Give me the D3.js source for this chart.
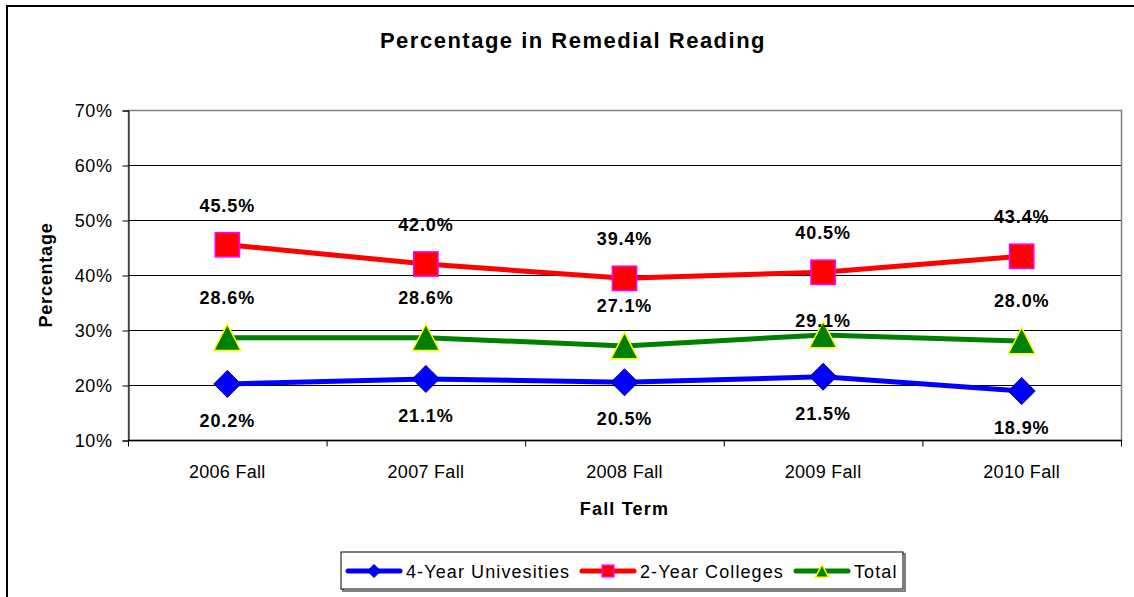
<!DOCTYPE html>
<html>
<head>
<meta charset="utf-8">
<script src="https://cdn.jsdelivr.net/npm/d3@7"></script>
<style>
  body { margin: 0; background: #fff; }
  svg { display: block; font-family: "Liberation Sans", Arial, sans-serif; }
</style>
</head>
<body>
<svg></svg>
<script>
// chart data
const terms = ["2006 Fall", "2007 Fall", "2008 Fall", "2009 Fall", "2010 Fall"];
const univ4 = [20.2, 21.1, 20.5, 21.5, 18.9];
const coll2 = [45.5, 42.0, 39.4, 40.5, 43.4];
const total = [28.6, 28.6, 27.1, 29.1, 28.0];
const yTicks = [10, 20, 30, 40, 50, 60, 70];

const w = 1134, h = 597;
const svg = d3.select("svg").attr("width", w).attr("height", h);

// outer chart frame
svg.append("rect")
    .attr("x", 7).attr("y", 6).attr("width", w + 20).attr("height", h + 20)
    .attr("fill", "white").attr("stroke", "black").attr("stroke-width", 2);

const pLeft = 128, pRight = 1121, pTop = 110, pBottom = 440;

var x = d3.scaleBand().domain(terms).range([pLeft, pRight]);
var y = d3.scaleLinear().domain([10, 70]).range([pBottom, pTop]);

// gridlines
svg.append("g")
    .selectAll("line")
    .data(yTicks)
    .enter()
    .append("line")
    .attr("x1", pLeft).attr("x2", pRight)
    .attr("y1", d => y(d) + 0.5).attr("y2", d => y(d) + 0.5)
    .attr("stroke", "#000").attr("stroke-width", 1);

// plot border (gray)
svg.append("rect")
    .attr("x", pLeft + 0.5).attr("y", pTop + 0.5)
    .attr("width", pRight - pLeft).attr("height", pBottom - pTop)
    .attr("fill", "none").attr("stroke", "#808080").attr("stroke-width", 1.5);

// y axis
var yAxis = d3.axisLeft(y).tickValues(yTicks).tickSize(6).tickPadding(10)
    .tickFormat(d => d + "%");
var gy = svg.append("g").attr("transform", `translate(${pLeft + 0.5},0.5)`).call(yAxis);
gy.select(".domain").attr("stroke", "#000");
gy.selectAll(".tick line").attr("stroke", "#000");
gy.selectAll("text").attr("font-size", 18).attr("fill", "#000")
    .attr("letter-spacing", 0.6)
    .attr("font-family", "Liberation Sans, Arial, sans-serif");

// x axis: ticks at category boundaries
var gx = svg.append("g").attr("transform", `translate(0,${pBottom + 0.5})`);
gx.append("line").attr("x1", pLeft).attr("x2", pRight + 1).attr("stroke", "#000").attr("stroke-width", 1.5);
gx.selectAll("line.tk")
    .data(terms.concat(["end"]))
    .enter()
    .append("line")
    .attr("class", "tk")
    .attr("x1", (d, i) => pLeft + i * x.bandwidth() + 0.5)
    .attr("x2", (d, i) => pLeft + i * x.bandwidth() + 0.5)
    .attr("y1", 0).attr("y2", 6)
    .attr("stroke", "#000");
gx.selectAll("text")
    .data(terms)
    .enter()
    .append("text")
    .attr("x", d => x(d) + x.bandwidth() / 2)
    .attr("y", 37)
    .attr("text-anchor", "middle")
    .attr("font-size", 18)
    .attr("letter-spacing", 0.3)
    .text(d => d);

// titles
svg.append("text").attr("x", 573).attr("y", 48).attr("text-anchor", "middle")
    .attr("font-size", 22).attr("font-weight", "bold").attr("letter-spacing", 1.5)
    .text("Percentage in Remedial Reading");
svg.append("text").attr("x", (pLeft + pRight) / 2).attr("y", 515).attr("text-anchor", "middle")
    .attr("font-size", 18).attr("font-weight", "bold").attr("letter-spacing", 1.2).text("Fall Term");
svg.append("text").attr("transform", `translate(52,${(pTop + pBottom) / 2}) rotate(-90)`)
    .attr("text-anchor", "middle")
    .attr("font-size", 18).attr("font-weight", "bold").attr("letter-spacing", 0.8).text("Percentage");

const cx = d => x(d) + x.bandwidth() / 2;

const series = [
    { name: "4-Year Univesities", values: univ4, color: "#0000ff", symbol: "diamond", fill: "#0000ff", stroke: "#000080", labelDy: 43 },
    { name: "2-Year Colleges", values: coll2, color: "#ff0000", symbol: "square", fill: "#ff0000", stroke: "#ff00ff", labelDy: -33 },
    { name: "Total", values: total, color: "#008000", symbol: "triangle", fill: "#008000", stroke: "#ffff00", labelDy: -34 }
];

function marker(g, s, px, py, size) {
    if (s.symbol === "diamond") {
        const r = size / 2;
        g.append("path").attr("d", `M${px},${py - r}L${px + r},${py}L${px},${py + r}L${px - r},${py}Z`)
            .attr("fill", s.fill).attr("stroke", s.stroke).attr("stroke-width", 1);
    } else if (s.symbol === "square") {
        const r = size * 0.45;
        g.append("rect").attr("x", px - r).attr("y", py - r).attr("width", 2 * r).attr("height", 2 * r)
            .attr("fill", s.fill).attr("stroke", s.stroke).attr("stroke-width", 1.5);
    } else {
        const r = size / 2;
        g.append("path").attr("d", `M${px},${py - r}L${px + r},${py + r * 0.95}L${px - r},${py + r * 0.95}Z`)
            .attr("fill", s.fill).attr("stroke", s.stroke).attr("stroke-width", 1.5);
    }
}

var line = d3.line().x((d, i) => cx(terms[i])).y(d => y(d));

series.forEach(s => {
    svg.append("path").datum(s.values).attr("d", line)
        .attr("fill", "none").attr("stroke", s.color).attr("stroke-width", 5)
        .attr("stroke-linejoin", "round");
});
series.forEach(s => {
    const g = svg.append("g");
    s.values.forEach((v, i) => marker(g, s, cx(terms[i]), y(v), 27));
});

// data labels (2009 Total label was nudged down in the original)
series.forEach(s => {
    svg.append("g")
        .selectAll("text")
        .data(s.values)
        .enter()
        .append("text")
        .attr("x", (d, i) => cx(terms[i]))
        .attr("y", (d, i) => y(d) + s.labelDy + (s.name === "Total" && i === 3 ? 26 : 0))
        .attr("text-anchor", "middle")
        .attr("font-size", 18).attr("font-weight", "bold").attr("letter-spacing", 0.9)
        .text(d => d.toFixed(1) + "%");
});

// legend
const lg = svg.append("g");
lg.append("rect").attr("x", 343).attr("y", 554).attr("width", 562).attr("height", 37)
    .attr("fill", "none").attr("stroke", "#808080").attr("stroke-width", 2);
lg.append("rect").attr("x", 341).attr("y", 552).attr("width", 562).attr("height", 37)
    .attr("fill", "white").attr("stroke", "#000").attr("stroke-width", 1);
const legX = [348, 582, 796];
series.forEach((s, i) => {
    const lx = legX[i], ly = 571;
    lg.append("line").attr("x1", lx).attr("x2", lx + 52).attr("y1", ly).attr("y2", ly)
        .attr("stroke", s.color).attr("stroke-width", 5).attr("stroke-linecap", "round");
    marker(lg, s, lx + 26, ly, 13);
    lg.append("text").attr("x", lx + 58).attr("y", ly + 6.5).attr("font-size", 18)
        .attr("letter-spacing", 1.1).text(s.name);
});
</script>
</body>
</html>
